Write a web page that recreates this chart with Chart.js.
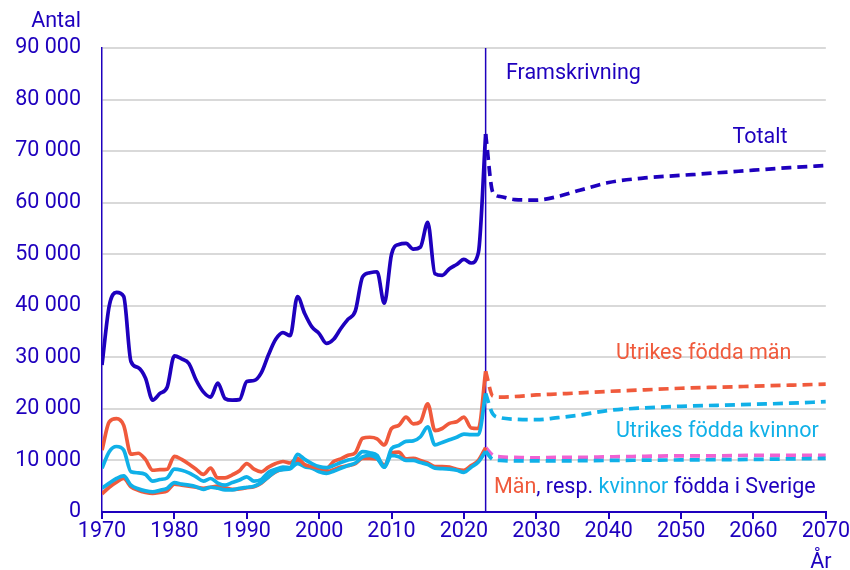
<!DOCTYPE html>
<html lang="sv">
<head>
<meta charset="utf-8">
<title>Utvandrade</title>
<script src="https://cdn.jsdelivr.net/npm/chart.js@4/dist/chart.umd.min.js"></script>
<style>
  html, body { margin: 0; padding: 0; background: #fff; }
  #wrap { width: 850px; height: 570px; }
</style>
</head>
<body>
<div id="wrap"><canvas id="myChart"></canvas></div>
<script>
// utfall 1970-2023
const years = [1970, 1971, 1972, 1973, 1974, 1975, 1976, 1977, 1978, 1979,
  1980, 1981, 1982, 1983, 1984, 1985, 1986, 1987, 1988, 1989,
  1990, 1991, 1992, 1993, 1994, 1995, 1996, 1997, 1998, 1999,
  2000, 2001, 2002, 2003, 2004, 2005, 2006, 2007, 2008, 2009,
  2010, 2011, 2012, 2013, 2014, 2015, 2016, 2017, 2018, 2019,
  2020, 2021, 2022, 2023];

const totalt = [28500, 40000, 42600, 41800, 29200, 28000, 26000, 21700, 23000, 24200,
  30300, 29700, 28800, 25600, 23300, 22300, 25000, 22000, 21700, 21800,
  25300, 25500, 27000, 30500, 33500, 34800, 34200, 41800, 38500, 35900,
  34600, 32700, 33500, 35600, 37400, 39000, 45600, 46400, 46600, 40500,
  50000, 51900, 52100, 51000, 51400, 56200, 46200, 45900, 47200, 48000,
  49000, 48300, 50300, 73300];

const utrikesMan = [12000, 17500, 18100, 16800, 11200, 11400, 10200, 8100, 8200, 8300,
  10800, 10200, 9300, 8300, 7300, 8500, 6600, 6600, 7200, 8000,
  9400, 8300, 7800, 8700, 9400, 9800, 9500, 10400, 9200, 8800,
  8500, 8400, 9800, 10300, 11000, 11500, 14300, 14500, 14200, 13000,
  16200, 16800, 18400, 17100, 17500, 21000, 15800, 16200, 17200, 17500,
  18400, 16300, 16200, 27300];

const utrikesKvinnor = [8500, 11700, 12700, 12000, 7800, 7600, 7300, 6000, 6300, 6600,
  8300, 8100, 7600, 6800, 6000, 6500, 5600, 5200, 5700, 6200,
  6800, 6000, 6300, 7700, 8300, 8700, 8600, 11200, 10200, 9400,
  8800, 8600, 9000, 9600, 10100, 10400, 11700, 11500, 11000, 8700,
  12300, 12900, 13700, 13800, 14600, 16500, 13000, 13500, 14000, 14500,
  15100, 15000, 15000, 23000];

const svenskaMan = [3500, 4800, 5800, 6500, 4900, 4200, 3800, 3600, 3800, 4100,
  5400, 5200, 5000, 4800, 4600, 4800, 5000, 4700, 4400, 4500,
  4700, 4900, 5600, 6800, 7800, 8300, 8500, 10000, 9000, 8600,
  8000, 7800, 8200, 8700, 9000, 9400, 10400, 10400, 10300, 9100,
  11400, 11600, 10300, 10400, 10000, 9500, 8800, 8800, 8700, 8300,
  8100, 9000, 10000, 12500];

const svenskaKvinnor = [4600, 5600, 6500, 7000, 5200, 4500, 4100, 3900, 4200, 4600,
  5700, 5400, 5200, 4900, 4400, 4800, 4600, 4300, 4300, 4600,
  4800, 5000, 5700, 6800, 7900, 8200, 8400, 9400, 8800, 8500,
  7800, 7500, 7900, 8500, 9000, 9500, 10700, 11000, 10400, 8700,
  11000, 10700, 10000, 10000, 9600, 9200, 8500, 8400, 8300, 8100,
  7700, 8700, 9700, 11800];

// framskrivning 2023-2070
const projYears = [2023, 2024, 2025, 2027, 2030, 2033, 2036, 2040, 2045, 2050, 2055, 2060, 2065, 2070];
const projTotalt = [73300, 62000, 61200, 60600, 60500, 61200, 62400, 63900, 64800, 65300, 65800, 66300, 66800, 67200];
const projUtrikesMan = [27300, 22500, 22300, 22400, 22700, 22900, 23100, 23400, 23700, 24000, 24200, 24400, 24600, 24800];
const projUtrikesKvinnor = [23000, 19000, 18300, 18000, 17900, 18300, 18800, 19700, 20200, 20500, 20700, 20900, 21100, 21400];
const projSvenskaMan = [12500, 11000, 10700, 10600, 10500, 10600, 10600, 10700, 10800, 10900, 10900, 11000, 11000, 11000];
const projSvenskaKvinnor = [11800, 10200, 10000, 9900, 9900, 9900, 9950, 10000, 10050, 10100, 10150, 10200, 10300, 10400];

const yTicks = [0, 10000, 20000, 30000, 40000, 50000, 60000, 70000, 80000, 90000];
const prognosStart = 2023;

const BLUE = "#1e00be";
const ORANGE = "#f05a3c";
const CYAN = "#10b0e8";
const PINK = "#f062d2";
const FONT = "Roboto";
const FONT_SIZE = 21.5;

function pts(xs, ys) {
  return xs.map((x, i) => ({ x: x, y: ys[i] }));
}

function serie(label, xs, ys, color, dashed, order) {
  return {
    label: label,
    data: pts(xs, ys),
    borderColor: color,
    backgroundColor: color,
    borderWidth: 3.7,
    borderDash: dashed ? [10, 6] : [],
    pointRadius: 0,
    cubicInterpolationMode: "monotone",
    fill: false,
    order: order,
  };
}

const annotations = {
  id: "annotations",
  beforeDatasetsDraw(chart) {
    const { ctx, chartArea, scales } = chart;
    const xv = scales.x.getPixelForValue(prognosStart);
    ctx.save();
    ctx.strokeStyle = BLUE;
    ctx.lineWidth = 1.5;
    ctx.beginPath();
    ctx.moveTo(xv, chartArea.top);
    ctx.lineTo(xv, chartArea.bottom);
    ctx.stroke();
    ctx.restore();
  },
  afterDraw(chart) {
    const { ctx, scales } = chart;
    const x = scales.x, y = scales.y;
    ctx.save();
    ctx.font = FONT_SIZE + "px " + FONT;
    ctx.textBaseline = "middle";
    ctx.textAlign = "left";

    const put = (text, xv, yv, color) => {
      ctx.fillStyle = color;
      ctx.fillText(text, x.getPixelForValue(xv), y.getPixelForValue(yv));
    };
    put("Framskrivning", 2025.8, 85100, BLUE);
    put("Totalt", 2057.1, 72700, BLUE);
    put("Utrikes födda män", 2041.0, 30800, ORANGE);
    put("Utrikes födda kvinnor", 2041.0, 15500, CYAN);

    // Män, resp. kvinnor födda i Sverige i flera färger
    const parts = [["Män", ORANGE], [", resp. ", BLUE], ["kvinnor", CYAN], [" födda i Sverige", BLUE]];
    let px = x.getPixelForValue(2024.15);
    const py = y.getPixelForValue(4650);
    parts.forEach(([t, c]) => {
      ctx.fillStyle = c;
      ctx.fillText(t, px, py);
      px += ctx.measureText(t).width;
    });

    ctx.fillStyle = BLUE;
    ctx.textAlign = "right";
    ctx.fillText("Antal", 81, 22);
    ctx.textAlign = "center";
    ctx.fillText("År", x.getPixelForValue(2070) - 5, 563);
    ctx.restore();
  },
};

const ctx = document.getElementById("myChart");

new Chart(ctx, {
  type: "line",
  data: {
    datasets: [
      serie("Totalt", years, totalt, BLUE, false, 1),
      serie("Utrikes födda män", years, utrikesMan, ORANGE, false, 3),
      serie("Utrikes födda kvinnor", years, utrikesKvinnor, CYAN, false, 2),
      serie("Män födda i Sverige", years, svenskaMan, ORANGE, false, 5),
      serie("Kvinnor födda i Sverige", years, svenskaKvinnor, CYAN, false, 4),
      serie("Totalt, framskrivning", projYears, projTotalt, BLUE, true, 1),
      serie("Utrikes födda män, framskrivning", projYears, projUtrikesMan, ORANGE, true, 3),
      serie("Utrikes födda kvinnor, framskrivning", projYears, projUtrikesKvinnor, CYAN, true, 2),
      serie("Män födda i Sverige, framskrivning", projYears, projSvenskaMan, PINK, true, 5),
      serie("Kvinnor födda i Sverige, framskrivning", projYears, projSvenskaKvinnor, CYAN, true, 4),
    ],
  },
  options: {
    responsive: true,
    maintainAspectRatio: false,
    animation: false,
    layout: {
      padding: { top: 48, right: 24, left: 0, bottom: 0 },
    },
    plugins: {
      legend: { display: false },
      tooltip: { enabled: false },
    },
    scales: {
      x: {
        type: "linear",
        min: 1970,
        max: 2070,
        afterFit: (scale) => { scale.height = 58; },
        ticks: {
          stepSize: 10,
          color: BLUE,
          font: { family: FONT, size: FONT_SIZE },
          padding: 0,
          maxRotation: 0,
          callback: (v) => String(v),
        },
        grid: {
          drawOnChartArea: false,
          drawTicks: true,
          tickLength: 7,
          color: BLUE,
          lineWidth: 2,
        },
        border: { color: BLUE, width: 2 },
      },
      y: {
        min: 0,
        max: 90000,
        afterFit: (scale) => { scale.width = 102; },
        afterBuildTicks: (scale) => {
          scale.ticks = yTicks.map((v) => ({ value: v }));
        },
        ticks: {
          color: BLUE,
          font: { family: FONT, size: FONT_SIZE },
          padding: 21,
          callback: (v) => v === 0 ? "0" : v.toLocaleString("sv-SE").replace(/\s/g, " "),
        },
        grid: {
          drawTicks: false,
          color: "#d9d9d9",
          lineWidth: 2,
        },
        border: { color: BLUE, width: 1.5 },
      },
    },
  },
  plugins: [annotations],
});
</script>
</body>
</html>
